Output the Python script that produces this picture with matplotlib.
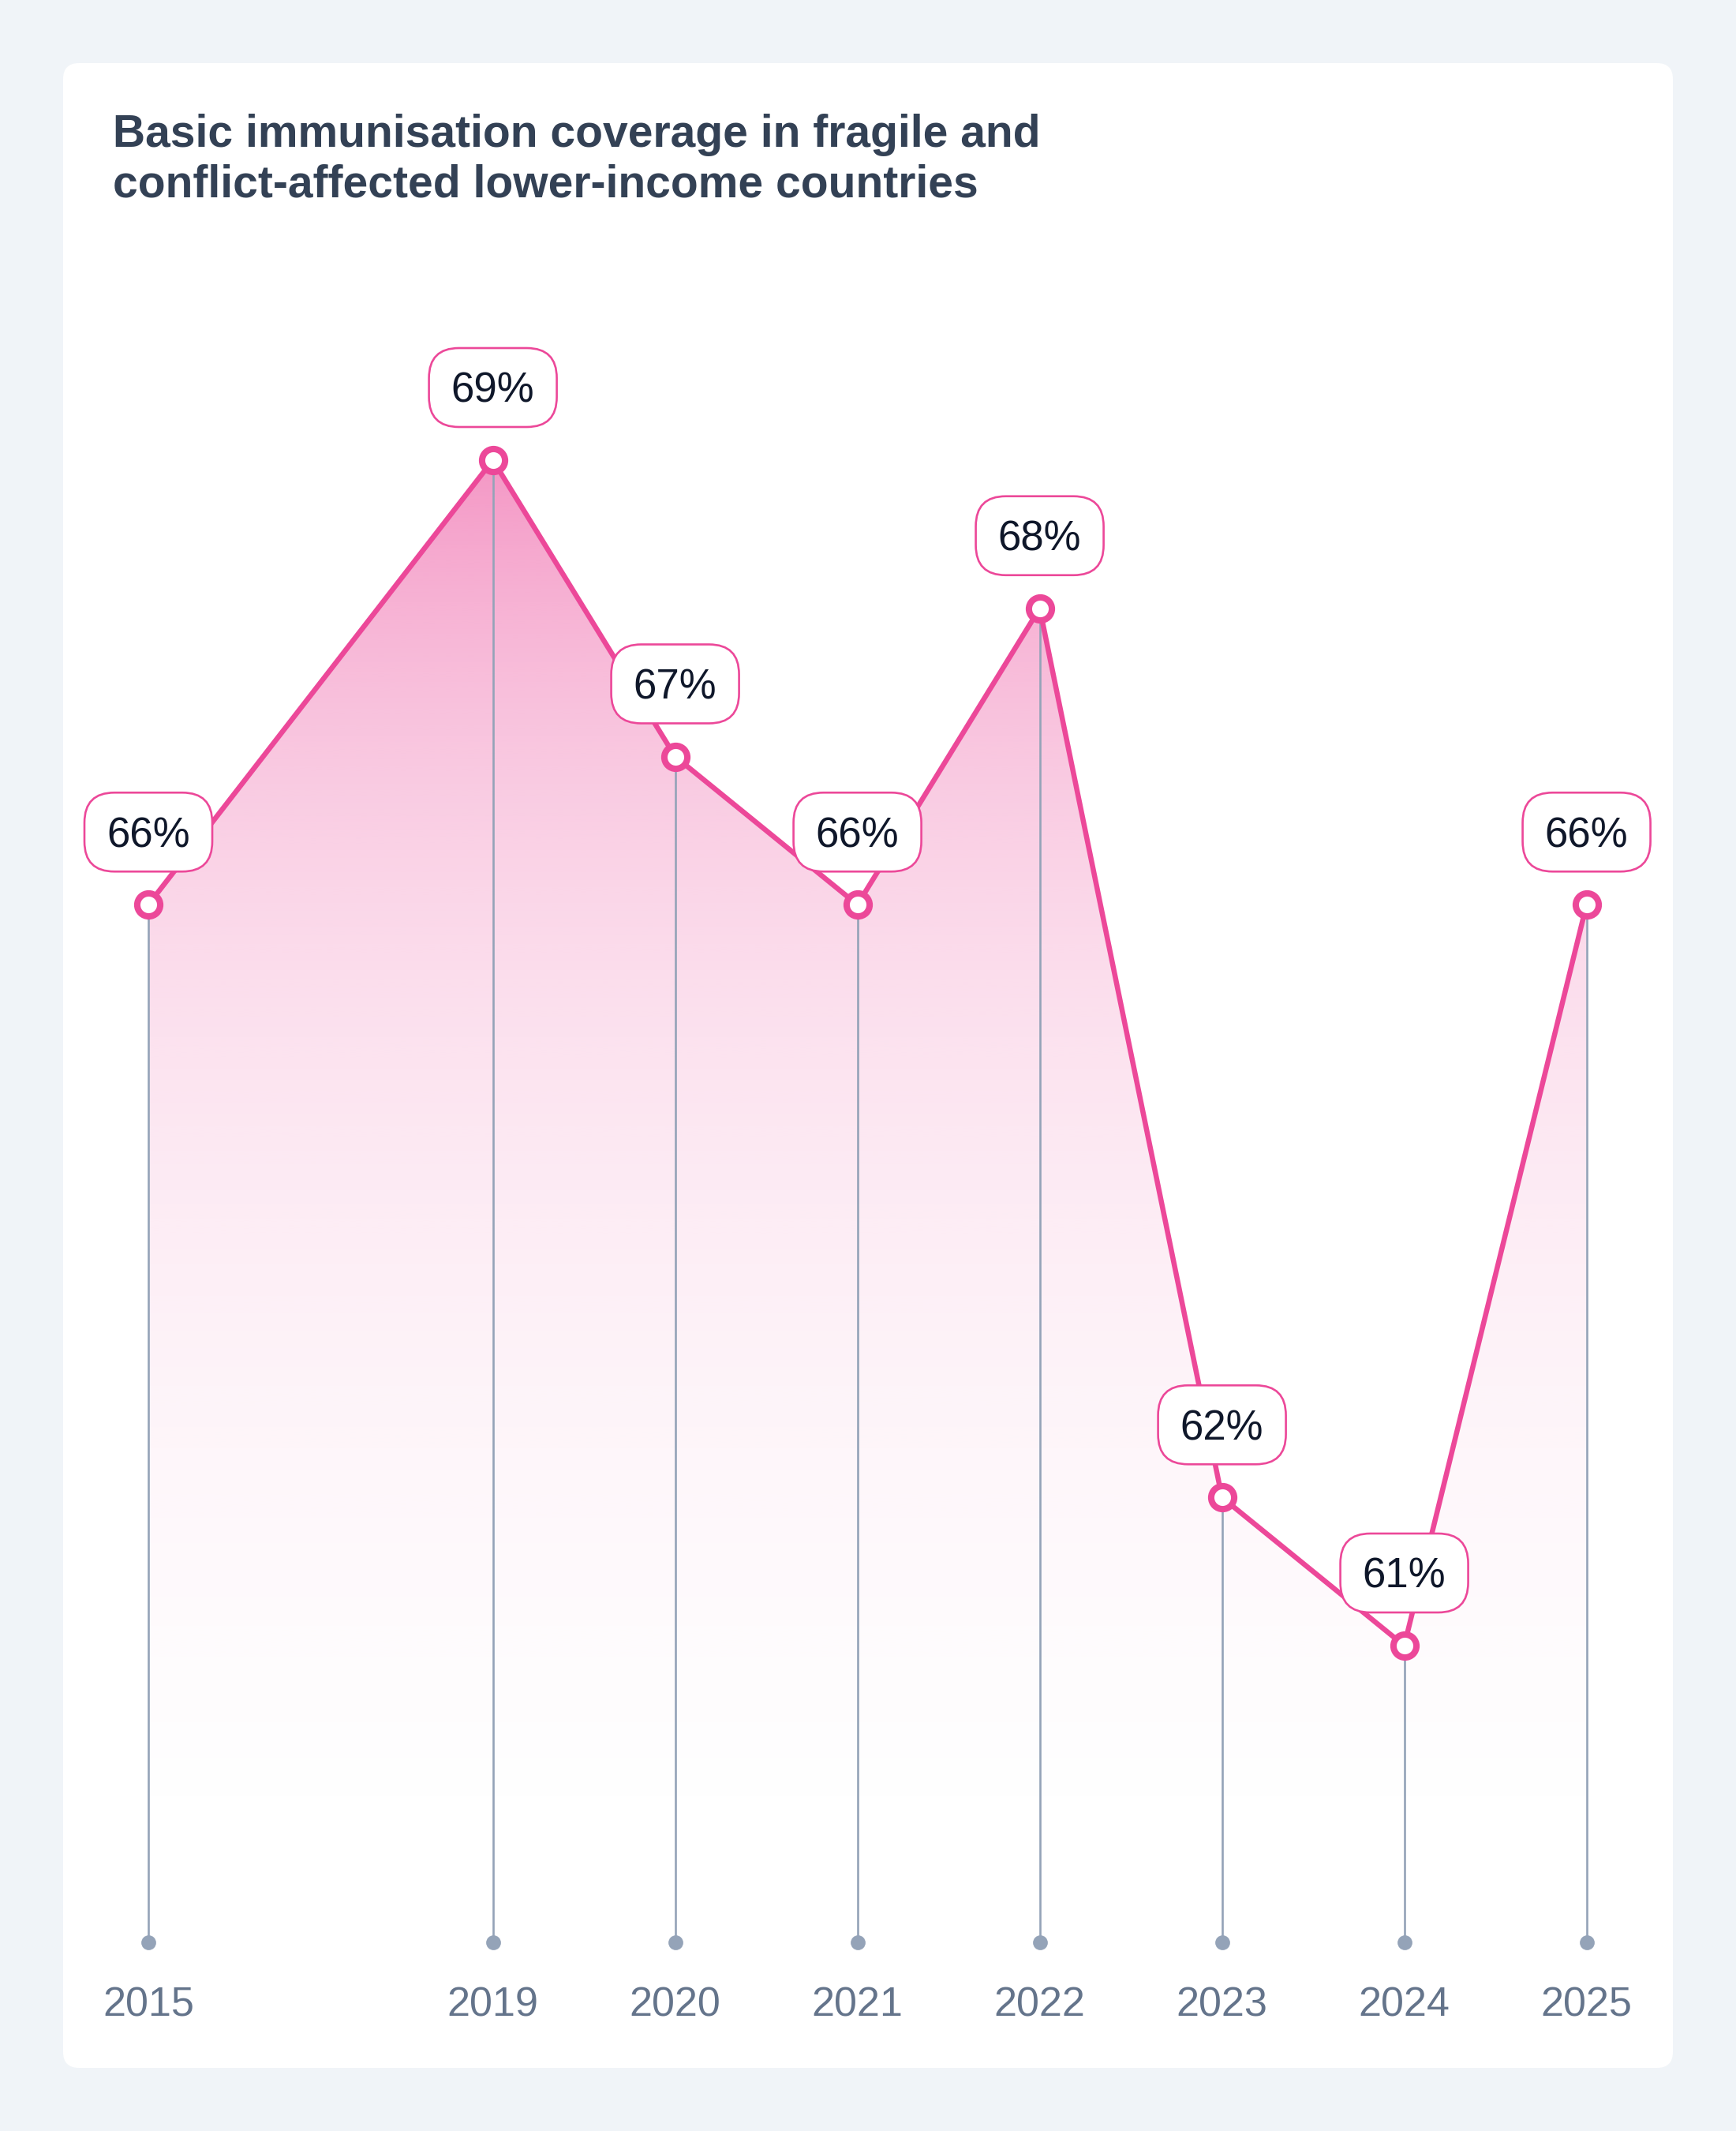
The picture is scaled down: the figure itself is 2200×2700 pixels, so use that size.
import numpy as np
import matplotlib
matplotlib.use("Agg")
import matplotlib.pyplot as plt
from matplotlib.patches import FancyBboxPatch
from matplotlib.transforms import IdentityTransform

plt.rcParams.update({
    "font.family": ["Liberation Sans", "DejaVu Sans"],
})

# data
years = ["2015", "2019", "2020", "2021", "2022", "2023", "2024", "2025"]
coverage = [66, 69, 67, 66, 68, 62, 61, 66]
labels = [f"{v}%" for v in coverage]

PINK = "#EC4899"
STEM = "#94A3B8"
YEAR_C = "#64748B"
TITLE_C = "#334155"
INK = "#0F172A"
BG = "#F0F4F8"

W, H, DPI = 2200, 2700, 100
GAP_FIRST = 1.89          # wider slot between 2015 and 2019
BASE = 59.0               # baseline where the stem dots sit
FLOOR = 59.7              # bottom of the gradient area

# x positions: first category, then a wider gap, then even steps
xpos = np.concatenate([[0.0], GAP_FIRST + np.arange(len(years) - 1)])

fig = plt.figure(figsize=(W / DPI, H / DPI), dpi=DPI, facecolor=BG)

# white card (behind the axes)
card = FancyBboxPatch((80, 80), 2040, 2540, boxstyle="round,pad=0,rounding_size=20",
                      transform=IdentityTransform(), facecolor="white", edgecolor="none",
                      zorder=-5)
fig.patches.append(card)

ax = fig.add_axes([0, 0, 1, 1])
ax.set_facecolor("none")
ax.axis("off")
# pixel <-> data mapping: 231 px per slot, 187.75 px per percentage point
ax.set_xlim(-188 / 231, (W - 188) / 231)
ax.set_ylim(69 - (H - 583) / 187.75, 69 + 583 / 187.75)

# gradient fill under the line, fading out towards the floor
poly = ax.fill_between(xpos, coverage, FLOOR, color="none", lw=0)
top = max(coverage)
yy = np.linspace(top, FLOOR, 400)
d = top - yy
alpha = 0.57 * np.exp(-d / 3.3)
alpha -= alpha[-1] * d / d[-1]
grad = np.zeros((len(yy), 1, 4))
grad[..., 0], grad[..., 1], grad[..., 2] = [c / 255 for c in (0xEC, 0x48, 0x99)]
grad[:, 0, 3] = np.clip(alpha, 0, 1)
im = ax.imshow(grad, extent=[xpos[0], xpos[-1], FLOOR, top], aspect="auto",
               origin="upper", interpolation="bilinear", zorder=1)
im.set_clip_path(poly.get_paths()[0], transform=ax.transData)

# stems and base dots
ax.vlines(xpos, BASE, coverage, color=STEM, lw=1.9, zorder=2)
ax.plot(xpos, [BASE] * len(xpos), "o", color=STEM, ms=13.5, mew=0, zorder=2)

# main line with hollow markers
ax.plot(xpos, coverage, color=PINK, lw=4.7, zorder=4, solid_joinstyle="round")
ax.plot(xpos, coverage, "o", ms=21, mfc="white", mec=PINK, mew=5.8, zorder=6)

# value labels in rounded boxes
fig.canvas.draw()
for x, v, lab in zip(xpos, coverage, labels):
    px, py = ax.transData.transform((x, v))
    cy = py + 92
    box = FancyBboxPatch((px - 81, cy - 50), 162, 100,
                         boxstyle="round,pad=0,rounding_size=38",
                         transform=IdentityTransform(), facecolor="white",
                         edgecolor=PINK, lw=1.9, zorder=7)
    ax.add_artist(box)
    ax.annotate(lab, (x, v), xytext=(0, (92 - 19) * 0.72), textcoords="offset points",
                ha="center", va="baseline", fontsize=38, color=INK, zorder=8)

# year labels under the dots
for x, yr in zip(xpos, years):
    ax.annotate(yr, (x, BASE), xytext=(0, -94 * 0.72), textcoords="offset points",
                ha="center", va="baseline", fontsize=37.5, color=YEAR_C, zorder=8)

# title
fig.text(143 / W, 1 - 186 / H, "Basic immunisation coverage in fragile and",
         ha="left", va="baseline", fontsize=41, fontweight="bold", color=TITLE_C)
fig.text(143 / W, 1 - 250 / H, "conflict-affected lower-income countries",
         ha="left", va="baseline", fontsize=41, fontweight="bold", color=TITLE_C)

fig.savefig("out.png", dpi=DPI, facecolor=BG)
